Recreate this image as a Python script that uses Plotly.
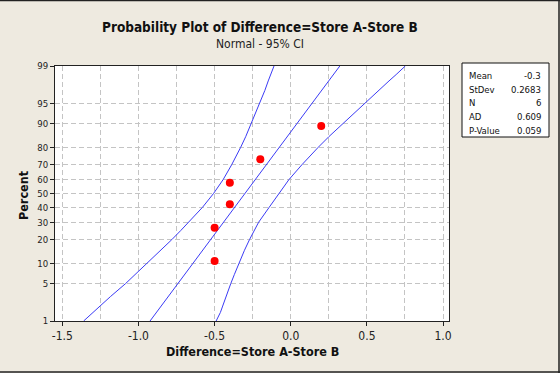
import plotly.graph_objects as go
from statistics import NormalDist

# ---- data ----
diff_values = [-0.5, -0.5, -0.4, -0.4, -0.2, 0.2]
diff_percent = [10.9, 26.6, 42.2, 57.8, 73.4, 89.1]

fit_x = [-0.924, 0.322]
fit_percent = [1, 99]

band_percent = [1, 1.5, 2, 3, 5, 7, 10, 15, 20, 25, 30, 40, 50, 60, 70, 75, 80, 85, 90, 93, 95, 97, 98, 98.5, 99]
band_lower = [-1.36, -1.30, -1.254, -1.184, -1.085, -1.02, -0.945, -0.852, -0.781, -0.722, -0.672,
              -0.58, -0.507, -0.444, -0.388, -0.359, -0.329, -0.296, -0.259, -0.229, -0.205,
              -0.17, -0.148, -0.132, -0.11]
band_upper = [-0.49, -0.462, -0.447, -0.426, -0.394, -0.37, -0.342, -0.304, -0.271, -0.240, -0.211,
              -0.142, -0.079, -0.012, 0.073, 0.122, 0.18, 0.25, 0.344, 0.418, 0.482, 0.576,
              0.645, 0.692, 0.752]

y_ticks = [1, 5, 10, 20, 30, 40, 50, 60, 70, 80, 90, 95, 99]
x_ticks = [-1.5, -1.0, -0.5, 0.0, 0.5, 1.0]
x_ticktext = ["-1.5", "-1.0", "-0.5", "0.0", "0.5", "1.0"]

stats_labels = ["Mean", "StDev", "N", "AD", "P-Value"]
stats_values = ["-0.3", "0.2683", "6", "0.609", "0.059"]

title = "Probability Plot of Difference=Store A-Store B"
subtitle = "Normal - 95% CI"
x_title = "Difference=Store A-Store B"
y_title = "Percent"

# ---- scale ----
nd = NormalDist()
def z(p):
    return nd.inv_cdf(p / 100.0)

FONT = "DejaVu Sans Condensed, DejaVu Sans, sans-serif"
W, H = 560, 373
L, R, T, B = 55, 449, 66, 321  # plot area pixels

def px(xp):
    return (xp - L) / (R - L)
def py(yp):
    return (B - yp) / (B - T)

blue = "#3b3bf5"

fig = go.Figure()
fig.add_trace(go.Scatter(x=band_lower, y=[z(p) for p in band_percent], mode="lines",
                         line=dict(color=blue, width=1), hoverinfo="skip"))
fig.add_trace(go.Scatter(x=band_upper, y=[z(p) for p in band_percent], mode="lines",
                         line=dict(color=blue, width=1), hoverinfo="skip"))
fig.add_trace(go.Scatter(x=fit_x, y=[z(p) for p in fit_percent], mode="lines",
                         line=dict(color=blue, width=1)))
fig.add_trace(go.Scatter(x=diff_values, y=[z(p) for p in diff_percent], mode="markers",
                         marker=dict(color="#ff0000", size=8, line=dict(width=0))))

grid = dict(gridcolor="#c4c4c4", griddash="5px,3px", gridwidth=1)

fig.update_xaxes(range=[-1.548, 1.039], tickvals=x_ticks, ticktext=x_ticktext,
                 showline=True, linecolor="#222", linewidth=1, mirror=True,
                 ticks="outside", ticklen=4, tickcolor="#222", showgrid=True, **grid,
                 minor=dict(tickvals=[-1.5 + 0.25 * i for i in range(11)], showgrid=True,
                            gridcolor="#c4c4c4", griddash="5px,3px", gridwidth=1),
                 tickfont=dict(family=FONT, size=12, color="#222"), zeroline=False)
fig.update_yaxes(range=[z(1), z(99)], tickvals=[z(p) for p in y_ticks],
                 ticktext=[str(p) for p in y_ticks],
                 showline=True, linecolor="#222", linewidth=1, mirror=True,
                 ticks="outside", ticklen=4, tickcolor="#222", showgrid=True, **grid,
                 tickfont=dict(family=FONT, size=9.5, color="#222"), zeroline=False)

ann = []
ann.append(dict(text="<b>%s</b>" % title, x=px(260), y=py(27), xref="paper", yref="paper",
                showarrow=False, xanchor="center", yanchor="middle",
                font=dict(family=FONT, size=13.5, color="#111")))
ann.append(dict(text=subtitle, x=px(260), y=py(44), xref="paper", yref="paper",
                showarrow=False, xanchor="center", yanchor="middle",
                font=dict(family=FONT, size=12, color="#222")))
ann.append(dict(text="<b>%s</b>" % x_title, x=px(252), y=py(351), xref="paper", yref="paper",
                showarrow=False, xanchor="center", yanchor="middle",
                font=dict(family=FONT, size=12.5, color="#111")))
ann.append(dict(text="<b>%s</b>" % y_title, x=px(23), y=py(195), xref="paper", yref="paper",
                showarrow=False, xanchor="center", yanchor="middle", textangle=-90,
                font=dict(family=FONT, size=12.5, color="#111")))
row_y = [75, 89, 102, 116, 130]
for lab, val, ry in zip(stats_labels, stats_values, row_y):
    ann.append(dict(text=lab, x=px(467), y=py(ry), xref="paper", yref="paper", showarrow=False,
                    xanchor="left", yanchor="middle", font=dict(family=FONT, size=9.5, color="#111")))
    ann.append(dict(text=val, x=px(543), y=py(ry), xref="paper", yref="paper", showarrow=False,
                    xanchor="right", yanchor="middle", font=dict(family=FONT, size=9.5, color="#111")))

shapes = [
    dict(type="rect", xref="paper", yref="paper", x0=px(462), x1=px(549), y0=py(63), y1=py(137),
         fillcolor="white", line=dict(color="#111", width=1), layer="below"),
    dict(type="line", xref="paper", yref="paper", x0=px(0), x1=px(560), y0=py(0.5), y1=py(0.5),
         line=dict(color="#222", width=1.5)),
    dict(type="line", xref="paper", yref="paper", x0=px(559), x1=px(559), y0=py(0), y1=py(373),
         line=dict(color="#222", width=1.5)),
    dict(type="line", xref="paper", yref="paper", x0=px(0), x1=px(560), y0=py(372), y1=py(372),
         line=dict(color="#222", width=1.5)),
]

fig.update_layout(width=W, height=H, margin=dict(l=L, r=W - R, t=T, b=H - B),
                  paper_bgcolor="#eeeae0", plot_bgcolor="white", showlegend=False,
                  annotations=ann, shapes=shapes, font=dict(family=FONT))

fig.write_html("out.html")
